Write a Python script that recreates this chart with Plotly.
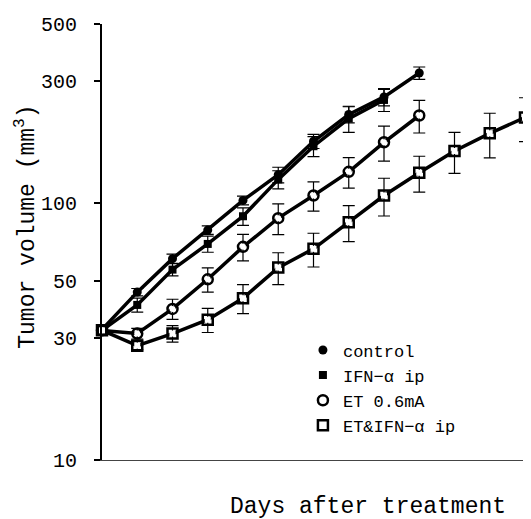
import plotly.graph_objects as go

days = [0, 1, 2, 3, 4, 5, 6, 7, 8, 9, 10, 11, 12]

control = [32.2, 45.1, 60.9, 78.7, 102.7, 129.3, 174.6, 222, 260, 322]
control_err = [1, 1.5, 2.5, 3, 4, 9, 11, 16, 20, 18]

ifn = [32, 40.2, 55.2, 69.5, 89.1, 124, 167, 214, 253]
ifn_err = [1, 2.5, 3, 5, 7, 10, 15, 25, 25]

et = [32, 31.1, 38.8, 50.6, 67.7, 87.6, 107.3, 132.7, 173, 220]
et_err = [1, 1.5, 3.5, 5.5, 8, 12, 14, 18, 27, 32]

etifn = [32, 27.9, 31.1, 35.2, 42.7, 56.2, 66.5, 84.5, 107.3, 131.6, 160, 187.5, 216]
etifn_err = [1, 1, 2.3, 3.8, 5.5, 8, 10, 13.5, 18, 21, 29, 37, 42]

names = ["control", "IFN\u2212\u03b1 ip", "ET 0.6mA", "ET&IFN\u2212\u03b1 ip"]
series = [control, ifn, et, etifn]
errors = [control_err, ifn_err, et_err, etifn_err]

y_ticks = [10, 30, 50, 100, 300, 500]

symbols = ["circle", "square", "circle-open", "square-open"]
msizes = [9, 8, 10, 10]

FONT = "Liberation Mono"

fig = go.Figure()

for vals in series:
    fig.add_trace(go.Scatter(
        x=days[:len(vals)], y=vals, mode="lines",
        line=dict(color="black", width=3.5),
        showlegend=False, cliponaxis=False, hoverinfo="skip",
    ))

for name, vals, err, sym, ms in zip(names, series, errors, symbols, msizes):
    fig.add_trace(go.Scatter(
        x=days[:len(vals)], y=vals, mode="markers", name=name,
        marker=dict(symbol=sym, size=ms, color="black",
                    line=dict(color="black", width=2.5 if "open" in sym else 0)),
        error_y=dict(type="data", array=err, visible=True,
                     color="black", thickness=1.2, width=6),
        cliponaxis=False,
    ))

# white fill for open markers
for k in (2, 3):
    vals = series[k]
    fig.add_trace(go.Scatter(
        x=days[:len(vals)], y=vals, mode="markers",
        marker=dict(symbol=symbols[k].replace("-open", ""), size=msizes[k] - 4,
                    color="white"),
        showlegend=False, cliponaxis=False, hoverinfo="skip",
    ))

fig.update_layout(
    width=523, height=511,
    margin=dict(l=94, r=6, t=11, b=59),
    paper_bgcolor="white", plot_bgcolor="white",
    font=dict(family=FONT, color="black", size=18),
    xaxis=dict(range=[0, 12], showticklabels=False, ticks="",
               showgrid=False, zeroline=False, showline=True,
               linecolor="#444", linewidth=1.2),
    yaxis=dict(type="log", range=[1, 2.699], tickvals=y_ticks,
               ticktext=[str(v) for v in y_ticks], ticks="outside",
               ticklen=6, tickwidth=1.5, tickcolor="black",
               showgrid=False, zeroline=False, showline=True,
               linecolor="black", linewidth=2,
               tickfont=dict(family=FONT, size=20),
               ticklabelstandoff=13),
    legend=dict(x=0.475, y=0.2925, xanchor="left", yanchor="top",
                bgcolor="rgba(0,0,0,0)", font=dict(family=FONT, size=17),
                itemwidth=30, tracegroupgap=0),
    annotations=[
        dict(text="Tumor volume (mm<sup>3</sup>)", xref="paper", yref="paper",
             x=(26 - 102) / 423, y=0.535, textangle=-90, showarrow=False,
             xanchor="center", yanchor="middle",
             font=dict(family=FONT, size=23)),
        dict(text="Days after treatment", xref="paper", yref="paper",
             x=0.628, y=-0.107, showarrow=False, xanchor="center",
             yanchor="middle", font=dict(family=FONT, size=23)),
    ],
)

fig.write_html("out.html")
